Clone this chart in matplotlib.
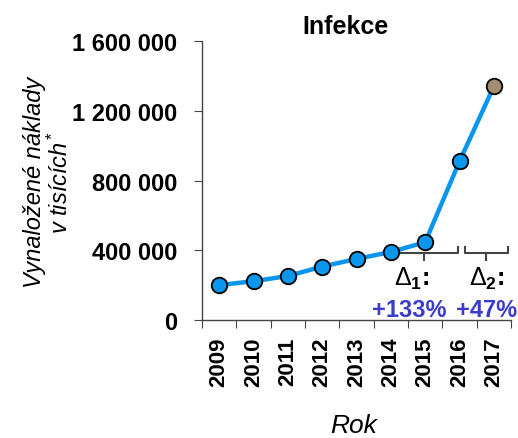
import numpy as np
import matplotlib
matplotlib.use('Agg')
import matplotlib.pyplot as plt

plt.rcParams['font.family'] = ['Liberation Sans', 'DejaVu Sans']
plt.rcParams['mathtext.fontset'] = 'custom'
plt.rcParams['mathtext.rm'] = 'Liberation Sans'
plt.rcParams['mathtext.it'] = 'Liberation Sans:italic'
plt.rcParams['mathtext.bf'] = 'Liberation Sans:bold'

years = ['2009', '2010', '2011', '2012', '2013', '2014', '2015', '2016', '2017']
costs = [200000, 222000, 252000, 306000, 350000, 390000, 446000, 910000, 1340000]
yticks = [0, 400000, 800000, 1200000, 1600000]
ytick_labels = ['0', '400 000', '800 000', '1 200 000', '1 600 000']
deltas = ['+133%', '+47%']

blue = '#0b96ee'
x = np.arange(len(years))

fig = plt.figure(figsize=(5.18, 4.39), dpi=100)
ax = fig.add_axes([0.39, 0.269, 0.5965, 0.635])

ax.plot(x, costs, color=blue, lw=3.2, zorder=2)
ax.scatter(x[:-1], costs[:-1], s=125, color=blue, edgecolor='black', lw=1.3, zorder=3)
ax.scatter(x[-1:], costs[-1:], s=125, color='#a38c70', edgecolor='black', lw=1.3, zorder=3)

ax.set_xlim(-0.5, len(years) - 0.5)
ax.set_ylim(0, 1600000)
ax.set_yticks(yticks)
ax.set_yticklabels(ytick_labels, fontsize=17, fontweight='bold')
ax.set_xticks(np.append(x - 0.5, len(years) - 0.5))
ax.set_xticklabels([])
ax.set_xticks(x, minor=True)
ax.set_xticklabels(years, minor=True, rotation=90, fontsize=16, fontweight='bold')
ax.tick_params(axis='x', which='minor', length=0, pad=12)
ax.tick_params(axis='x', which='major', length=6, color='#444444')
ax.tick_params(axis='y', length=6, color='#444444', pad=12)

for sp in ['top', 'right']:
    ax.spines[sp].set_visible(False)
for sp in ['left', 'bottom']:
    ax.spines[sp].set_color('#444444')
    ax.spines[sp].set_linewidth(1.0)

# brackets
yb = 385000
def bracket(x0, x1, xm):
    ax.plot([x0, x0, x1, x1], [yb + 35000, yb, yb, yb + 35000], color='#444444', lw=1.5, clip_on=False)
    ax.plot([xm, xm], [yb, yb - 40000], color='#444444', lw=1.5, clip_on=False)

bracket(4.9, 6.95, 5.97)
bracket(7.15, 8.4, 7.77)

ax.text(5.6, 240000, r'$\Delta_\mathbf{1}$:', ha='center', va='center', fontsize=18, fontweight='bold')
ax.text(7.78, 240000, r'$\Delta_\mathbf{2}$:', ha='center', va='center', fontsize=18, fontweight='bold')
ax.text(5.55, 60000, deltas[0], ha='center', va='center', fontsize=17, fontweight='bold', color='#3b3bcc')
ax.text(7.8, 60000, deltas[1], ha='center', va='center', fontsize=17, fontweight='bold', color='#3b3bcc')

fig.text(346 / 518, 1 - 27 / 439, 'Infekce', ha='center', va='center', fontsize=18, fontweight='bold')
fig.text(48 / 518, 1 - 182 / 439, 'Vynaložené náklady\nv tisících$^*$', ha='center', va='center',
         rotation=90, fontsize=17, style='italic', linespacing=1.1)
fig.text(354 / 518, 1 - 426 / 439, 'Rok', ha='center', va='center', fontsize=19, style='italic')

fig.savefig('out.png', dpi=100)
